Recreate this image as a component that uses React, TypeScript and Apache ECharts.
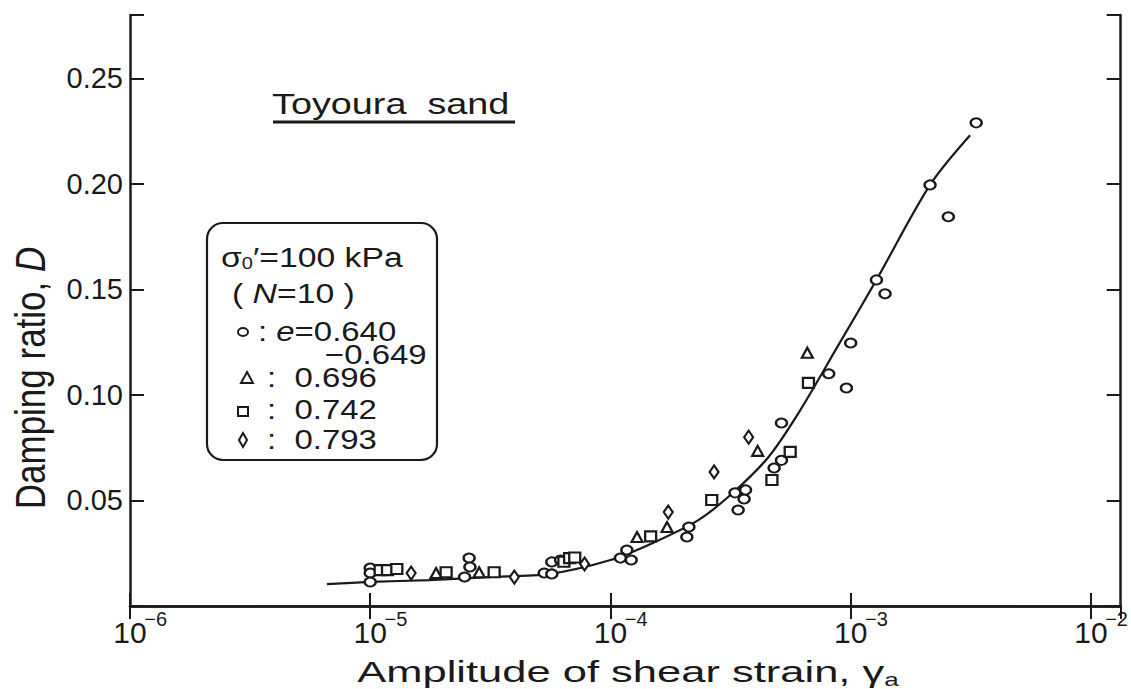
import React, { useEffect, useRef } from "react";
import * as echarts from "echarts";

// Shear strain amplitude (γa) and damping ratio (D) for each void ratio group
const circleStrain = [1.0e-5, 1.0e-5, 1.0e-5, 2.47e-5, 2.58e-5, 2.6e-5, 5.3e-5, 5.7e-5, 5.7e-5, 6.2e-5, 1.1e-4, 1.17e-4, 1.22e-4, 2.08e-4, 2.12e-4, 3.3e-4, 3.4e-4, 3.6e-4, 3.65e-4, 4.8e-4, 5.15e-4, 5.15e-4, 8.1e-4, 9.6e-4, 1.0e-3, 1.28e-3, 1.39e-3, 2.14e-3, 2.55e-3, 3.33e-3];
const circleDamping = [0.018, 0.0156, 0.0114, 0.0137, 0.0227, 0.0185, 0.0156, 0.0152, 0.0209, 0.0218, 0.0227, 0.0265, 0.0218, 0.0327, 0.0374, 0.0536, 0.0455, 0.0507, 0.055, 0.0654, 0.069, 0.0867, 0.11, 0.1033, 0.1246, 0.1545, 0.1479, 0.1995, 0.1844, 0.2289];

const triangleStrain = [1.88e-5, 2.84e-5, 1.29e-4, 1.72e-4, 4.1e-4, 6.6e-4];
const triangleDamping = [0.0156, 0.016, 0.0327, 0.0374, 0.0735, 0.12];

const squareStrain = [1.1e-5, 1.18e-5, 1.29e-5, 2.07e-5, 3.28e-5, 6.4e-5, 6.76e-5, 7.1e-5, 1.47e-4, 2.64e-4, 4.7e-4, 5.6e-4, 6.67e-4];
const squareDamping = [0.017, 0.017, 0.0175, 0.016, 0.016, 0.021, 0.0227, 0.023, 0.033, 0.0502, 0.0597, 0.073, 0.1057];

const diamondStrain = [1.48e-5, 3.98e-5, 7.8e-5, 1.74e-4, 2.7e-4, 3.76e-4];
const diamondDamping = [0.0156, 0.0137, 0.0199, 0.0445, 0.0635, 0.08];

// Fitted curve through all groups
const curveStrain = [6.6e-6, 1e-5, 1.76e-5, 3.13e-5, 5.56e-5, 1e-4, 1.51e-4, 2.33e-4, 3.26e-4, 4.55e-4, 6.07e-4, 8.9e-4, 1.28e-3, 2.14e-3, 3.14e-3];
const curveDamping = [0.0104, 0.0114, 0.0123, 0.0137, 0.0152, 0.0218, 0.03, 0.0408, 0.054, 0.0706, 0.0915, 0.1237, 0.1545, 0.1995, 0.223];

// Axis ranges and tick values
const strainMin = 1e-6;
const strainMax = 0.0133;
const dampingMin = 0;
const dampingMax = 0.28;
const dampingStep = 0.05;

const FONT = '"Liberation Sans", Arial, Helvetica, sans-serif';
const INK = "#1a1a1a";

const pairs = (xs: number[], ys: number[]) => xs.map((x, i) => [x, ys[i]]);

const markStyle = { color: "#ffffff", borderColor: INK, borderWidth: 2.2, opacity: 1 };

export default function App() {
  const ref = useRef<HTMLDivElement>(null);

  useEffect(() => {
    if (!ref.current) return;
    const chart = echarts.init(ref.current, null, { renderer: "svg" });

    const tickLine = { show: true, inside: true, length: 13, lineStyle: { color: INK, width: 2 } };
    const axisLine = { show: true, lineStyle: { color: INK, width: 2.5 } };

    const xLabel = (v: number) => {
      const e = Math.log10(v);
      const r = Math.round(e);
      if (Math.abs(e - r) > 0.01) return "";
      return `{pad|}{b|10}{s|−${-r}}`;
    };
    const yLabel = (v: number) => {
      if (v <= 0.001 || v > 0.26) return "";
      return v.toFixed(2);
    };

    const txt = (
      x: number,
      y: number,
      text: string,
      rich: any,
      opts: any = {}
    ) => ({
      type: "text",
      x,
      y,
      scaleX: opts.scaleX ?? 1,
      scaleY: opts.scaleY ?? 1,
      rotation: opts.rotation ?? 0,
      style: {
        text,
        rich,
        fill: INK,
        fontFamily: FONT,
        fontSize: opts.fontSize ?? 27,
        align: opts.align ?? "left",
        textAlign: opts.align ?? "left",
        verticalAlign: "middle",
        textVerticalAlign: "middle",
      },
    });

    const legendRich = {
      t: { fontSize: 27, fontFamily: FONT, color: INK, lineHeight: 30 },
      i: { fontSize: 27, fontFamily: FONT, color: INK, fontStyle: "italic", lineHeight: 30 },
      sub: { fontSize: 16, fontFamily: FONT, color: INK, verticalAlign: "bottom", lineHeight: 16 },
    };

    const shape = { fill: "#ffffff", stroke: INK, lineWidth: 2 };

    chart.setOption({
      animation: false,
      backgroundColor: "#ffffff",
      grid: { left: 130, right: 8, top: 15, bottom: 83, containLabel: false },
      xAxis: [
        {
          type: "log",
          logBase: 10,
          min: strainMin,
          max: strainMax,
          position: "bottom",
          axisLine,
          axisTick: tickLine,
          minorTick: { show: false },
          splitLine: { show: false },
          axisLabel: {
            show: true,
            margin: 3,
            showMaxLabel: false,
            formatter: xLabel,
            rich: {
              pad: { width: 18 },
              b: { fontSize: 30, fontFamily: FONT, color: INK, lineHeight: 46 },
              s: { fontSize: 20, fontFamily: FONT, color: INK, lineHeight: 20, verticalAlign: "top", width: 18 },
            },
          },
        },
        {
          type: "log",
          logBase: 10,
          min: strainMin,
          max: strainMax,
          position: "top",
          axisLine,
          axisTick: tickLine,
          minorTick: { show: false },
          splitLine: { show: false },
          axisLabel: { show: false },
        },
      ],
      yAxis: [
        {
          type: "value",
          min: dampingMin,
          max: dampingMax,
          interval: dampingStep,
          position: "left",
          axisLine,
          axisTick: { ...tickLine, length: 14 },
          splitLine: { show: false },
          axisLabel: {
            show: true,
            margin: 7,
            formatter: yLabel,
            fontSize: 29,
            fontFamily: FONT,
            color: INK,
          },
        },
        {
          type: "value",
          min: dampingMin,
          max: dampingMax,
          interval: dampingStep,
          position: "right",
          axisLine,
          axisTick: { ...tickLine, length: 14 },
          splitLine: { show: false },
          axisLabel: { show: false },
        },
      ],
      series: [
        {
          name: "fit",
          type: "line",
          data: pairs(curveStrain, curveDamping),
          smooth: 0.3,
          showSymbol: false,
          symbol: "none",
          lineStyle: { color: INK, width: 2.2 },
          z: 2,
        },
        {
          name: "e=0.640-0.649",
          type: "scatter",
          data: pairs(circleStrain, circleDamping),
          symbol: "circle",
          symbolSize: [11, 9],
          itemStyle: markStyle,
          z: 3,
        },
        {
          name: "0.696",
          type: "scatter",
          data: pairs(triangleStrain, triangleDamping),
          symbol: "triangle",
          symbolSize: [11, 10],
          itemStyle: markStyle,
          z: 3,
        },
        {
          name: "0.742",
          type: "scatter",
          data: pairs(squareStrain, squareDamping),
          symbol: "rect",
          symbolSize: [11, 10],
          itemStyle: markStyle,
          z: 3,
        },
        {
          name: "0.793",
          type: "scatter",
          data: pairs(diamondStrain, diamondDamping),
          symbol: "diamond",
          symbolSize: [9, 13],
          itemStyle: markStyle,
          z: 3,
        },
      ],
      graphic: [
        // Axis titles
        txt(30, 378, "{t|Damping ratio, }{i|D}", {
          t: { fontSize: 35, fontFamily: FONT, color: INK },
          i: { fontSize: 35, fontFamily: FONT, color: INK, fontStyle: "italic" },
        }, { rotation: Math.PI / 2, align: "center", scaleY: 1.2, fontSize: 35 }),
        txt(628, 672, "{t|Amplitude of shear strain, γ}{sub|a}", {
          t: { fontSize: 30, fontFamily: FONT, color: INK, lineHeight: 34 },
          sub: { fontSize: 18, fontFamily: FONT, color: INK, verticalAlign: "bottom", lineHeight: 24 },
        }, { align: "center", scaleX: 1.45, fontSize: 30 }),
        // Material label
        txt(272, 103, "{t|Toyoura  sand}", {
          t: { fontSize: 30, fontFamily: FONT, color: INK },
        }, { scaleX: 1.26, fontSize: 30 }),
        {
          type: "line",
          shape: { x1: 273, y1: 122, x2: 515, y2: 122 },
          style: { stroke: INK, lineWidth: 3 },
        },
        // Legend box
        {
          type: "rect",
          shape: { x: 207, y: 223, width: 230, height: 237, r: 16 },
          style: { fill: "none", stroke: INK, lineWidth: 2.2 },
        },
        txt(221, 257, "{t|σ}{sub|0}{t|′=100 kPa}", legendRich, { scaleX: 1.25 }),
        txt(232, 293, "{t|( }{i|N}{t|=10 )}", legendRich, { scaleX: 1.25 }),
        txt(258, 332, "{t|: }{i|e}{t|=0.640}", legendRich, { scaleX: 1.22 }),
        txt(325, 355, "{t|−0.649}", legendRich, { scaleX: 1.22 }),
        txt(267, 378, "{t|:  0.696}", legendRich, { scaleX: 1.22 }),
        txt(267, 410, "{t|:  0.742}", legendRich, { scaleX: 1.22 }),
        txt(267, 440, "{t|:  0.793}", legendRich, { scaleX: 1.22 }),
        { type: "ellipse", shape: { cx: 243, cy: 332, rx: 5, ry: 4 }, style: shape },
        { type: "polygon", shape: { points: [[247, 372], [253, 383], [241, 383]] }, style: shape },
        { type: "rect", shape: { x: 238, y: 407, width: 10, height: 9 }, style: shape },
        { type: "polygon", shape: { points: [[243, 433], [247, 440], [243, 447], [239, 440]] }, style: shape },
      ],
    });

    return () => chart.dispose();
  }, []);

  return (
    <div
      ref={ref}
      style={{ position: "fixed", left: 0, top: 0, width: 1131, height: 689, background: "#fff" }}
    />
  );
}
